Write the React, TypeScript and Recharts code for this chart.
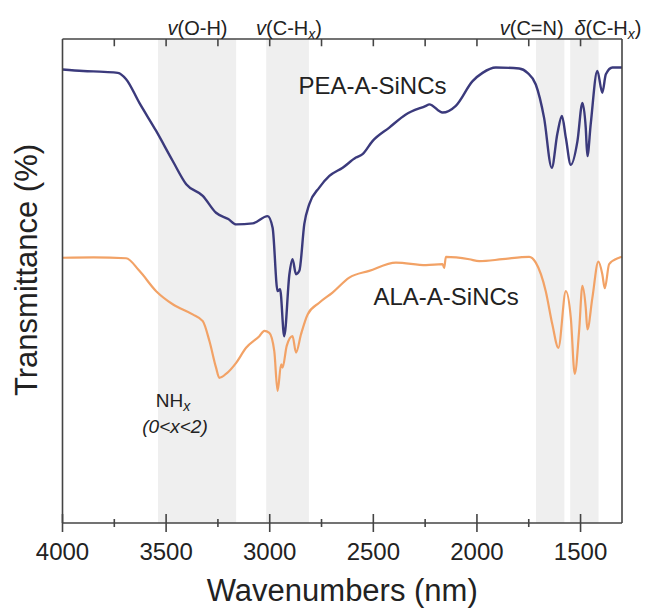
import { LineChart, Line, XAxis, YAxis, ReferenceArea } from 'recharts';

// wavenumbers (cm-1 on the axis, shown as "nm" like the source) and transmittance in arbitrary units (0-100)
const peaWave = [
  4000, 3900, 3800, 3733, 3693, 3629, 3548, 3468, 3403, 3323, 3259, 3200, 3162, 3082, 3010, 2986, 2962, 2950,
  2930, 2905, 2890, 2873, 2857, 2833, 2809, 2761, 2712, 2648, 2584, 2552, 2504, 2423, 2343, 2246, 2230, 2166,
  2102, 2021, 1973, 1909, 1796, 1756, 1716, 1676, 1639, 1612, 1590, 1571, 1547, 1515, 1491, 1475, 1467, 1451,
  1419, 1395, 1378, 1346, 1300,
];
const peaT = [
  93.7, 93.4, 93.2, 93.0, 91.7, 86.8, 81.0, 74.8, 70.0, 67.6, 64.1, 62.8, 61.7, 61.9, 63.4, 61.0, 47.9, 48.3,
  38.6, 51.4, 54.5, 51.4, 52.1, 61.8, 65.9, 69.3, 71.7, 73.4, 75.5, 76.2, 78.9, 81.7, 84.4, 86.2, 86.5, 84.8,
  86.2, 91.3, 93.0, 94.1, 93.9, 93.0, 90.6, 83.7, 73.4, 80.4, 84.1, 79.6, 74.0, 78.9, 86.8, 81.7, 75.8, 82.4,
  93.4, 88.9, 92.7, 94.1, 94.1,
];

const alaWave = [
  4000, 3850, 3693, 3629, 3548, 3468, 3372, 3323, 3291, 3259, 3243, 3211, 3162, 3114, 3050, 3026, 3002, 2978,
  2962, 2945, 2938, 2918, 2890, 2873, 2849, 2817, 2761, 2697, 2616, 2520, 2391, 2246, 2166, 2158, 2150, 2037,
  1989, 1877, 1748, 1716, 1668, 1636, 1607, 1571, 1547, 1528, 1507, 1491, 1475, 1467, 1443, 1414, 1395, 1383,
  1362, 1314, 1300,
];
const alaT = [
  54.8, 54.9, 54.7, 52.1, 47.9, 45.2, 43.1, 41.7, 37.6, 32.1, 30.0, 30.8, 33.1, 36.2, 38.6, 39.7, 39.3, 35.5,
  27.3, 32.8, 32.1, 36.6, 38.6, 35.2, 39.0, 43.1, 45.5, 47.6, 50.7, 52.1, 53.8, 53.3, 53.5, 52.7, 55.0, 54.5,
  54.1, 54.5, 55.0, 53.8, 47.9, 41.0, 36.2, 47.9, 42.4, 30.8, 39.7, 49.0, 44.5, 40.0, 46.5, 54.0, 51.4, 48.5,
  53.5, 54.8, 55.0,
];

const xTicks = [4000, 3750, 3500, 3250, 3000, 2750, 2500, 2250, 2000, 1750, 1500];

// shaded assignment bands [from, to]
const bands = [
  [3539, 3162],
  [3017, 2811],
  [1715, 1578],
  [1550, 1413],
];

const peaData = peaWave.map((w, i) => ({ w, t: peaT[i] }));
const alaData = alaWave.map((w, i) => ({ w, t: alaT[i] }));

const FONT = "'Liberation Sans', Arial, sans-serif";
const AXIS = '#444';

const BottomTick = (props: any) => {
  const { x, y, payload } = props;
  const major = payload.value % 500 === 0;
  const len = major ? 9 : 4;
  return (
    <g>
      <line x1={x} x2={x} y1={y - len} y2={y + len} stroke={AXIS} strokeWidth={1.6} />
      {major && (
        <text x={x} y={y + 36.5} textAnchor="middle" fontSize={24} fontFamily={FONT} fill="#222">
          {payload.value}
        </text>
      )}
    </g>
  );
};

const XTitle = (props: any) => {
  const { x, y, width } = props.viewBox;
  return (
    <text x={x + width / 2} y={y + 78} textAnchor="middle" fontSize={31} fontFamily={FONT} fill="#222">
      Wavenumbers (nm)
    </text>
  );
};

const YTitle = () => (
  <text
    x={37}
    y={270}
    transform="rotate(-90 37 270)"
    textAnchor="middle"
    fontSize={31}
    fontFamily={FONT}
    fill="#222"
  >
    Transmittance (%)
  </text>
);

const App = () => {
  return (
    <div style={{ position: 'absolute', left: 0, top: 0, width: 645, height: 611, background: '#fff' }}>
      <LineChart width={645} height={611} margin={{ top: 39, right: 22, bottom: 0, left: 0 }}>
        {bands.map(([a, b], i) => (
          <ReferenceArea key={i} x1={a} x2={b} fill="#efefef" fillOpacity={1} stroke="none" ifOverflow="hidden" />
        ))}
        {/* inward ticks on the top frame, as thin areas hanging from the top */}
        {xTicks
          .filter((v) => v !== 4000)
          .map((v) => (
            <ReferenceArea
              key={'t' + v}
              x1={v + 3.8}
              x2={v - 3.8}
              y1={98.5}
              y2={100}
              fill={AXIS}
              fillOpacity={1}
              stroke="none"
              ifOverflow="visible"
            />
          ))}
        <XAxis
          dataKey="w"
          type="number"
          domain={[1300, 4000]}
          reversed
          ticks={xTicks}
          interval={0}
          height={88}
          axisLine={{ stroke: AXIS, strokeWidth: 1.6 }}
          tickLine={false}
          tickSize={0}
          tickMargin={0}
          tick={(p: any) => <BottomTick {...p} />}
          label={(p: any) => <XTitle {...p} />}
        />
        <XAxis
          xAxisId="top"
          orientation="top"
          type="number"
          domain={[1300, 4000]}
          reversed
          mirror
          tickFormatter={() => ''}
          tickLine={false}
          axisLine={{ stroke: AXIS, strokeWidth: 1.6 }}
        />
        <YAxis
          type="number"
          domain={[0, 100]}
          width={62.5}
          tick={false}
          tickLine={false}
          axisLine={{ stroke: AXIS, strokeWidth: 1.6 }}
          label={() => <YTitle />}
        />
        <YAxis
          yAxisId="right"
          orientation="right"
          type="number"
          domain={[0, 100]}
          width={1}
          tick={false}
          tickLine={false}
          axisLine={{ stroke: AXIS, strokeWidth: 1.6 }}
        />
        <Line
          data={alaData}
          dataKey="t"
          type="monotone"
          stroke="#f2a266"
          strokeWidth={2.2}
          dot={false}
          isAnimationActive={false}
        />
        <Line
          data={peaData}
          dataKey="t"
          type="monotone"
          stroke="#3b3a7c"
          strokeWidth={2.4}
          dot={false}
          isAnimationActive={false}
        />
      </LineChart>
      <svg
        width={645}
        height={611}
        style={{ position: 'absolute', left: 0, top: 0, pointerEvents: 'none' }}
        fontFamily={FONT}
        fill="#222"
      >
        <text x={197.5} y={35} fontSize={20} textAnchor="middle">
          <tspan fontStyle="italic">v</tspan>(O-H)
        </text>
        <text x={289} y={35} fontSize={20} textAnchor="middle">
          <tspan fontStyle="italic">v</tspan>(C-H
          <tspan fontSize={14} dy={4} fontStyle="italic">x</tspan>
          <tspan dy={-4}>)</tspan>
        </text>
        <text x={531.7} y={35} fontSize={20} textAnchor="middle">
          <tspan fontStyle="italic">v</tspan>(C=N)
        </text>
        <text x={608} y={35} fontSize={20} textAnchor="middle">
          <tspan fontStyle="italic">δ</tspan>(C-H
          <tspan fontSize={14} dy={4} fontStyle="italic">x</tspan>
          <tspan dy={-4}>)</tspan>
        </text>
        <text x={298.5} y={93.5} fontSize={24}>PEA-A-SiNCs</text>
        <text x={373.5} y={305} fontSize={24}>ALA-A-SiNCs</text>
        <text x={173} y={406.5} fontSize={19} textAnchor="middle">
          NH<tspan fontSize={14} dy={4} fontStyle="italic">x</tspan>
        </text>
        <text x={175} y={433} fontSize={19} textAnchor="middle" fontStyle="italic">
          (0&lt;x&lt;2)
        </text>
      </svg>
    </div>
  );
};

export default App;
